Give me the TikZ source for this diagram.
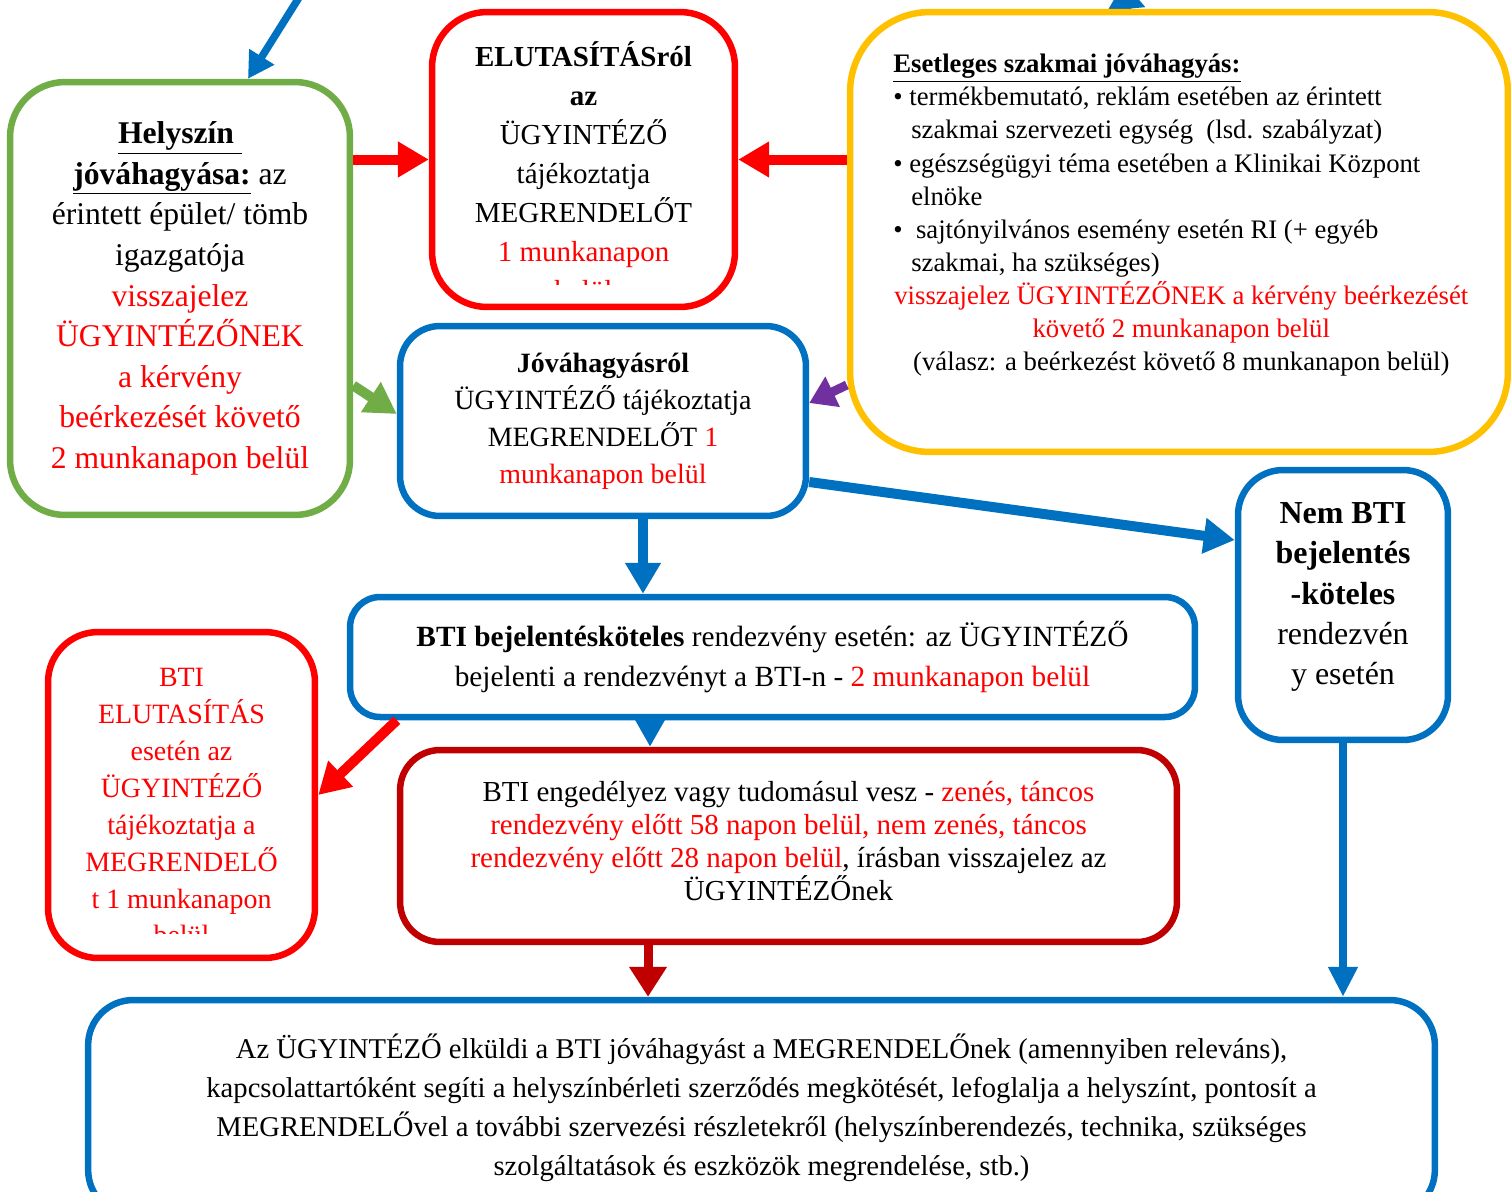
\documentclass[tikz,border=0pt]{standalone}
\usepackage{fontspec}
\setmainfont{Liberation Serif}
\usetikzlibrary{arrows.meta, backgrounds}

\definecolor{kek}{RGB}{0,112,192}
\definecolor{zold}{RGB}{112,173,71}
\definecolor{piros}{RGB}{255,0,0}
\definecolor{bordo}{RGB}{192,0,0}
\definecolor{sarga}{RGB}{255,192,0}
\definecolor{lila}{RGB}{112,48,160}

\newcommand{\pir}[1]{\textcolor{piros}{#1}}
\newcommand{\betu}[2]{\fontsize{#1}{#2}\selectfont}

\tikzset{
	doboz/.style = {rectangle, draw, fill = white, line width = 0.13cm, align = center, inner sep = 0},
	nyil/.style = {line width = #1, -{Triangle[length = 0.62cm, width = 0.68cm]}},
	nyil/.default = 0.2cm
}

\begin{document}
\begin{tikzpicture}[x = 0.02cm, y = -0.02cm]

	% Frame

	\useasboundingbox (0, 0) rectangle (1511, 1191);
	\clip (0, 0) rectangle (1511, 1191);

	% Boxes

	\node [doboz, draw = zold, rounded corners = 1.1cm, minimum width = 6.8cm, minimum height = 8.66cm, font = \betu{18}{23.1}] (helyszin) at (180, 298.5)
		{\underline{\textbf{Helyszín\ }}\\ \underline{\textbf{jóváhagyása:}} az\\ érintett épület/ tömb\\ igazgatója\\ \pir{visszajelez}\\ \pir{ÜGYINTÉZŐNEK}\\ \pir{a kérvény}\\ \pir{beérkezését követő}\\ \pir{2 munkanapon belül}};

	\node [doboz, draw = piros, rounded corners = 1.1cm, minimum width = 6.06cm, minimum height = 5.9cm] (elutasitas) at (583.5, 159.5) {};

	\node [doboz, draw = sarga, rounded corners = 1.6cm, minimum width = 13.16cm, minimum height = 8.8cm] (szakmai) at (1179, 232) {};

	\node [doboz, draw = kek, rounded corners = 0.8cm, minimum width = 8.12cm, minimum height = 3.8cm, font = \betu{15.9}{21}] (jovahagyas) at (603, 421)
		{\textbf{Jóváhagyásról}\\ ÜGYINTÉZŐ tájékoztatja\\ MEGRENDELŐT \pir{1}\\ \pir{munkanapon belül}};

	\node [doboz, draw = kek, rounded corners = 0.9cm, minimum width = 4.2cm, minimum height = 5.4cm] (nembti) at (1343, 605) {};

	\node [doboz, draw = kek, rounded corners = 0.6cm, minimum width = 16.9cm, minimum height = 2.4cm, font = \betu{16.7}{22.8}] (bejelentes) at (772.5, 657)
		{\textbf{BTI bejelentésköteles} rendezvény esetén: az ÜGYINTÉZŐ\\ bejelenti a rendezvényt a BTI-n - \pir{2 munkanapon belül}};

	\node [doboz, draw = piros, rounded corners = 1cm, minimum width = 5.34cm, minimum height = 6.52cm] (btielut) at (181.5, 795) {};

	\node [doboz, draw = bordo, rounded corners = 0.8cm, minimum width = 15.54cm, minimum height = 3.84cm] (engedely) at (788.5, 846) {};

	\node [doboz, draw = kek, rounded corners = 0.9cm, minimum width = 26.94cm, minimum height = 4.3cm, font = \betu{16.3}{22.2}] (ugyintezo) at (761.5, 1107.5)
		{Az ÜGYINTÉZŐ elküldi a BTI jóváhagyást a MEGRENDELŐnek (amennyiben releváns),\\ kapcsolattartóként segíti a helyszínbérleti szerződés megkötését, lefoglalja a helyszínt, pontosít a\\ MEGRENDELŐvel a további szervezési részletekről (helyszínberendezés, technika, szükséges\\ szolgáltatások és eszközök megrendelése, stb.)};

	% Texts of the boxes

	\begin{scope}
		\clip (440, 20) rectangle (727, 284);
		\node [anchor = north, align = center, inner sep = 0, font = \betu{16.5}{22.2}] (elutszoveg) at (583.5, 41)
			{\textbf{ELUTASÍTÁSról}\\ \textbf{az}\\ ÜGYINTÉZŐ\\ tájékoztatja\\ MEGRENDELŐT\\ \pir{1 munkanapon}\\ \pir{belül}};
	\end{scope}

	\begin{scope}
		\clip (56, 640) rectangle (307, 933);
		\node [anchor = north, align = center, inner sep = 0, text = piros, font = \betu{15.9}{21}] (btiszoveg) at (181.5, 668)
			{BTI\\ ELUTASÍTÁS\\ esetén az\\ ÜGYINTÉZŐ\\ tájékoztatja a\\ MEGRENDELŐ\\ t 1 munkanapon\\ belül};
	\end{scope}

	\node [align = center, inner sep = 0, font = \betu{18.2}{22.8}] (nembtiszoveg) at (1343, 597)
		{\textbf{Nem BTI}\\ \textbf{bejelentés}\\ \textbf{-köteles}\\ rendezvén\\ y esetén};

	\node [align = center, inner sep = 0, font = \betu{16.5}{18.8}] (engedelyszoveg) at (788.5, 841)
		{BTI engedélyez vagy tudomásul vesz - \pir{zenés, táncos}\\ \pir{rendezvény előtt 58 napon belül, nem zenés, táncos}\\ \pir{rendezvény előtt 28 napon belül}, írásban visszajelez az\\ ÜGYINTÉZŐnek};

	\node [anchor = north west, align = left, inner sep = 0, font = \betu{15.2}{18.8}] (szakmaiszoveg) at (893, 54)
		{\underline{\textbf{Esetleges szakmai jóváhagyás:}}\\
		• termékbemutató, reklám esetében az érintett\\
		\hspace*{0.36cm}szakmai szervezeti egység~ (lsd. szabályzat)\\
		• egészségügyi téma esetében a Klinikai Központ\\
		\hspace*{0.36cm}elnöke\\
		•~ sajtónyilvános esemény esetén RI (+ egyéb\\
		\hspace*{0.36cm}szakmai, ha szükséges)\\
		\makebox[11.52cm]{\pir{visszajelez ÜGYINTÉZŐNEK a kérvény beérkezését}}\\
		\makebox[11.52cm]{\pir{követő 2 munkanapon belül}}\\
		\makebox[11.52cm]{(válasz: a beérkezést követő 8 munkanapon belül)}};

	% Arrows

	\coordinate (fent1) at (305, -12);
	\draw [nyil = 0.15cm, kek, -{Triangle[length = 0.52cm, width = 0.56cm]}] (fent1) -- ([xshift = 1.36cm] helyszin.north);

	\draw [nyil, piros] (helyszin.east |- elutasitas.west) -- (elutasitas.west);
	\draw [nyil, piros] (szakmai.west |- elutasitas.east) -- (elutasitas.east);

	\draw [nyil, zold] ([yshift = -1.74cm] helyszin.east) -- ([yshift = 0.14cm] jovahagyas.west);
	\draw [nyil = 0.18cm, lila, -{Triangle[length = 0.52cm, width = 0.64cm]}] ([yshift = -3.06cm] szakmai.west) -- ([yshift = 0.36cm] jovahagyas.east);

	\coordinate (le1) at ([xshift = 0.8cm] jovahagyas.south);
	\draw [nyil, kek] (le1) -- (le1 |- bejelentes.north);
	\draw [nyil, kek] ([yshift = -1.22cm] jovahagyas.east) -- ([yshift = 1.3cm] nembti.west);

	\draw [nyil, piros] ([xshift = 1cm] bejelentes.south west) -- (btielut.east);

	\coordinate (le2) at ([xshift = -2.45cm] bejelentes.south);
	\draw [nyil, kek, -{Triangle[length = 0.54cm, width = 0.56cm]}] (le2) -- (le2 |- engedely.north);

	\coordinate (le3) at ([xshift = -2.81cm] engedely.south);
	\draw [nyil = 0.18cm, bordo, -{Triangle[length = 0.6cm, width = 0.72cm]}] (le3) -- (le3 |- ugyintezo.north);

	\draw [nyil = 0.16cm, kek, -{Triangle[length = 0.6cm, width = 0.56cm]}] (nembti.south) -- (nembti.south |- ugyintezo.north);

	\begin{pgfonlayer}{background}
		\clip (0, 0) rectangle (1511, 1191);
		\coordinate (fent2) at (1124, -18);
		\draw [nyil, kek, -{Triangle[length = 0.54cm, width = 0.72cm]}] ([xshift = -0.96cm, yshift = -1cm] szakmai.north) -- (fent2);
	\end{pgfonlayer}

\end{tikzpicture}
\end{document}
